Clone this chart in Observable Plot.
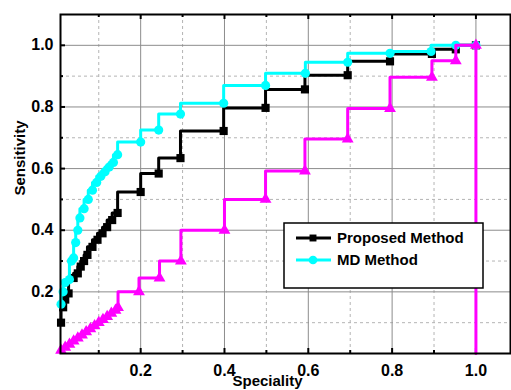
<!DOCTYPE html>
<html><head><meta charset="utf-8">
<script src="https://cdn.jsdelivr.net/npm/d3@7"></script>
<script src="https://cdn.jsdelivr.net/npm/@observablehq/plot@0.6"></script>
<style>
body{margin:0;background:#fff;}
svg{font-family:"Liberation Sans",Arial,sans-serif;font-weight:bold;}
</style>
</head><body><div id="chart"></div>
<script>
// ---- data ----
const legendNames = ["Proposed Method", "MD Method"];
const xTickLabels = [0.2, 0.4, 0.6, 0.8, 1.0];
const yTickLabels = [0.2, 0.4, 0.6, 0.8, 1.0];
const xMinorTicks = [0.1, 0.3, 0.5, 0.7, 0.9];
const yMinorTicks = [0.1, 0.3, 0.5, 0.7, 0.9];

const proposedX = [0.01, 0.015, 0.02, 0.028, 0.04, 0.05, 0.057, 0.065, 0.073, 0.085, 0.097, 0.109, 0.12, 0.132, 0.145, 0.2, 0.243, 0.295, 0.398, 0.498, 0.592, 0.694, 0.795, 0.895, 0.952, 1.0];
const proposedY = [0.10, 0.15, 0.175, 0.195, 0.245, 0.26, 0.282, 0.30, 0.32, 0.346, 0.369, 0.39, 0.41, 0.433, 0.456, 0.524, 0.584, 0.634, 0.722, 0.797, 0.857, 0.903, 0.948, 0.972, 0.987, 1.0];

const mdX = [0.01, 0.015, 0.02, 0.03, 0.035, 0.04, 0.045, 0.05, 0.055, 0.065, 0.075, 0.085, 0.095, 0.105, 0.115, 0.125, 0.135, 0.145, 0.2, 0.243, 0.295, 0.398, 0.498, 0.593, 0.694, 0.795, 0.893, 0.952, 1.0];
const mdY = [0.16, 0.20, 0.23, 0.24, 0.30, 0.31, 0.36, 0.40, 0.44, 0.47, 0.50, 0.53, 0.555, 0.575, 0.59, 0.605, 0.62, 0.645, 0.686, 0.725, 0.777, 0.812, 0.87, 0.909, 0.945, 0.974, 0.98, 1.0, 1.0];

const randomX = [0.01, 0.02, 0.03, 0.04, 0.05, 0.06, 0.07, 0.08, 0.09, 0.10, 0.11, 0.12, 0.13, 0.14, 0.146, 0.196, 0.245, 0.296, 0.40, 0.498, 0.592, 0.694, 0.795, 0.895, 0.952, 1.0, 1.0];
const randomY = [0.01, 0.02, 0.03, 0.04, 0.05, 0.06, 0.07, 0.08, 0.09, 0.10, 0.11, 0.12, 0.13, 0.14, 0.149, 0.20, 0.245, 0.30, 0.40, 0.50, 0.592, 0.696, 0.795, 0.896, 0.95, 1.0, 0.0];

const toRows = (xs, ys) => xs.map((x, i) => ({x, y: ys[i]}));
const proposed = toRows(proposedX, proposedY);
const md = toRows(mdX, mdY);
const random = toRows(randomX, randomY);
const randomMarkers = random.slice(0, random.length - 1);

// ---- layout ----
const W = 511, H = 390, mL = 60, mR = 1, mT = 14, mB = 37;
const fW = W - mL - mR, fH = H - mT - mB;
const fmt = d3.format(".1f");
const LW = 3;

const plot = Plot.plot({
  width: W, height: H,
  marginLeft: mL, marginRight: mR, marginTop: mT, marginBottom: mB,
  x: {domain: [0.0087, 1.0825]},
  y: {domain: [0, 1.1]},
  style: {background: "white", overflow: "visible", fontFamily: "'Liberation Sans', Arial, sans-serif", fontWeight: "bold", color: "black"},
  marks: [
    Plot.ruleX(xMinorTicks, {x: d => d, stroke: "#b4b4b4", strokeDasharray: "3,3"}),
    Plot.ruleY(yMinorTicks, {y: d => d, stroke: "#b4b4b4", strokeDasharray: "3,3"}),
    Plot.ruleX(xTickLabels, {x: d => d, stroke: "#8c8c8c"}),
    Plot.ruleY(yTickLabels, {y: d => d, stroke: "#8c8c8c"}),
    // inward ticks
    Plot.tickX(xTickLabels, {x: d => d, insetTop: fH - 5, stroke: "black", strokeWidth: 2}),
    Plot.tickX(xMinorTicks, {x: d => d, insetTop: fH - 3, stroke: "black", strokeWidth: 2}),
    Plot.tickX(xTickLabels, {x: d => d, insetBottom: fH - 5, stroke: "black", strokeWidth: 2}),
    Plot.tickX(xMinorTicks, {x: d => d, insetBottom: fH - 3, stroke: "black", strokeWidth: 2}),
    Plot.tickY(yTickLabels, {y: d => d, insetRight: fW - 5, stroke: "black", strokeWidth: 2}),
    Plot.tickY(yMinorTicks, {y: d => d, insetRight: fW - 3, stroke: "black", strokeWidth: 2}),
    Plot.axisX(xTickLabels, {tickSize: 0, tickPadding: 11, tickFormat: fmt, fontSize: 16, fontWeight: "bold", label: null}),
    Plot.axisY(yTickLabels, {tickSize: 0, tickPadding: 7, tickFormat: fmt, fontSize: 16, fontWeight: "bold", label: null}),
    // series
    Plot.line(proposed, {x: "x", y: "y", stroke: "black", strokeWidth: LW, curve: "step-before"}),
    Plot.dot(proposed, {x: "x", y: "y", symbol: "square", r: 4.6, fill: "black"}),
    Plot.line(md, {x: "x", y: "y", stroke: "#00ffff", strokeWidth: LW, curve: "step-before"}),
    Plot.dot(md, {x: "x", y: "y", symbol: "circle", r: 4.6, fill: "#00ffff"}),
    Plot.line(random, {x: "x", y: "y", stroke: "#ff00ff", strokeWidth: LW, curve: "step-before"}),
    Plot.dot(randomMarkers, {x: "x", y: "y", symbol: "triangle", r: 4.4, fill: "#ff00ff"}),
    Plot.frame({stroke: "black", strokeWidth: 2}),
    Plot.text(["Speciality"], {text: d => d, frameAnchor: "bottom", dx: -18, dy: 28, fontSize: 15, fontWeight: "bold", lineAnchor: "middle"}),
    Plot.text(["Sensitivity"], {text: d => d, frameAnchor: "left", rotate: -90, dx: -40.5, dy: 11.5, fontSize: 15, fontWeight: "bold", lineAnchor: "middle"})
  ]
});

// legend
const svg = d3.select(plot);
const lg = svg.append("g").attr("text-anchor", "start");
lg.append("rect").attr("x", 284).attr("y", 223).attr("width", 199).attr("height", 65)
  .attr("fill", "white").attr("stroke", "black").attr("stroke-width", 1.5);
const legendColors = ["black", "#00ffff"];
const legendSymbols = [d3.symbolSquare, d3.symbolCircle];
legendNames.forEach((name, i) => {
  const yy = 238 + i * 22;
  lg.append("line").attr("x1", 296).attr("x2", 331).attr("y1", yy).attr("y2", yy)
    .attr("stroke", legendColors[i]).attr("stroke-width", LW);
  lg.append("path").attr("d", d3.symbol(legendSymbols[i], i === 0 ? 48 : 60)())
    .attr("transform", `translate(313,${yy})`).attr("fill", legendColors[i]);
  lg.append("text").attr("x", 337).attr("y", yy).attr("dy", "0.35em")
    .attr("text-anchor", "start")
    .attr("font-size", 15).attr("font-weight", "bold").attr("fill", "black").text(name);
});

document.getElementById("chart").append(plot);
</script>
</body></html>
